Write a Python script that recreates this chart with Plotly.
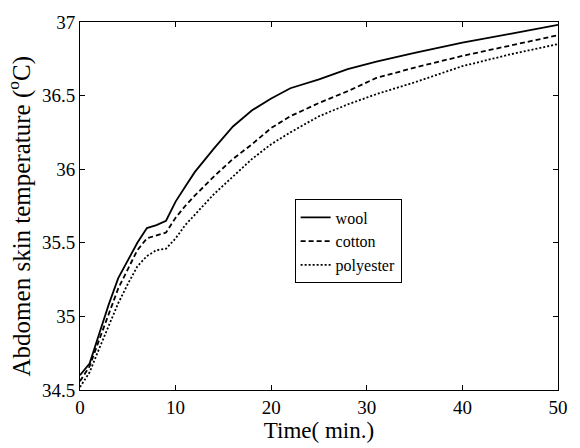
import plotly.graph_objects as go

time_min = [0, 1, 2, 3, 4, 5, 6, 7, 8, 9, 10, 11, 12, 14, 16, 18, 20, 22, 25, 28, 31, 35, 40, 45, 50]
wool = [34.60, 34.68, 34.88, 35.08, 35.26, 35.38, 35.50, 35.60, 35.62, 35.65, 35.78, 35.88, 35.98,
        36.14, 36.29, 36.40, 36.48, 36.55, 36.61, 36.68, 36.73, 36.79, 36.86, 36.92, 36.98]
cotton = [34.56, 34.66, 34.84, 35.02, 35.19, 35.32, 35.45, 35.53, 35.55, 35.57, 35.67, 35.75, 35.82,
          35.95, 36.07, 36.17, 36.28, 36.36, 36.45, 36.53, 36.62, 36.69, 36.77, 36.84, 36.91]
polyester = [34.52, 34.62, 34.78, 34.94, 35.09, 35.22, 35.34, 35.41, 35.45, 35.46, 35.53, 35.62, 35.69,
             35.83, 35.95, 36.07, 36.17, 36.25, 36.36, 36.44, 36.51, 36.59, 36.70, 36.78, 36.85]

series = [("wool", wool, "solid"), ("cotton", cotton, "5px,3px"), ("polyester", polyester, "2px,2px")]

FONT = "Liberation Serif, Times New Roman, serif"
fig = go.Figure()
for name, vals, dash in series:
    fig.add_trace(go.Scatter(x=time_min, y=vals, mode="lines", name=name,
                             line=dict(color="black", width=1.8, dash=dash)))

axis_common = dict(showline=True, linecolor="black", linewidth=1, mirror="ticks",
                   ticks="inside", ticklen=5, tickcolor="black", showgrid=False, zeroline=False,
                   tickfont=dict(family=FONT, size=19, color="black"))
fig.update_xaxes(range=[0, 50], dtick=10,
                 title=dict(text="Time( min.)", font=dict(family=FONT, size=23, color="black"), standoff=2),
                 **axis_common)
fig.update_yaxes(range=[34.5, 37], dtick=0.5, **axis_common)
fig.add_annotation(text="Abdomen skin temperature (<sup>o</sup>C)", textangle=-90,
                   xref="paper", yref="paper", x=-0.126, y=0.471, xanchor="center", yanchor="middle",
                   showarrow=False, font=dict(family=FONT, size=25, color="black"))
fig.update_layout(
    width=580, height=448,
    margin=dict(l=80, r=17, t=15, b=53),
    plot_bgcolor="white", paper_bgcolor="white",
    font=dict(family=FONT, color="black"),
    legend=dict(x=0.449, y=0.518, xanchor="left", yanchor="top",
                bordercolor="black", borderwidth=1, bgcolor="white",
                font=dict(family=FONT, size=16, color="black"),
                tracegroupgap=0, itemwidth=30),
    showlegend=True,
)
fig.write_html("out.html")
